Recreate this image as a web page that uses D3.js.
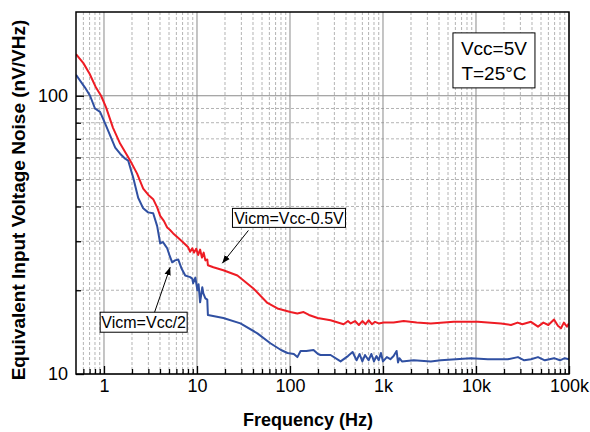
<!DOCTYPE html>
<html><head><meta charset="utf-8">
<script src="https://cdn.jsdelivr.net/npm/d3@7"></script>
<style>body{margin:0;background:#fff}svg{display:block;font-family:"Liberation Sans",Arial,sans-serif}</style>
</head><body><svg id="c" width="590" height="432"></svg>
<script>
// ---- data ----
const redFreq = [0.5,0.6,0.7,0.82,0.93,1.05,1.25,1.49,1.91,2.27,2.64,3.0,3.38,3.73,4.02,4.4,4.78,5.1,5.55,6.3,7.11,8.0,8.45,8.9,9.3,9.8,10.3,10.8,11.3,11.8,12.3,12.9,13.1,15,19.2,27.2,40.4,57.2,73.3,101,120,140,160,198,273,377,420,450,500,550,600,650,700,760,820,900,1016,1300,1670,2300,3266,5770,10470,18530,23770,28000,31500,39000,46400,53000,60000,69000,76000,82000,88000,95000,100000];
const redVal  = [141,131,120,107,100,91,76.7,67.3,58.5,52.5,46.4,44,42.5,39.7,37,35.5,33.6,33,32,30.8,29.7,28.6,27.5,28.3,27.3,28.2,26.8,28.0,26.2,27.3,25.6,25.8,24.6,24.2,23.6,22.6,20.3,18.0,17.2,16.7,16.5,16.7,16.3,15.9,15.6,15.1,15.5,15.2,15.5,15.0,15.5,15.1,15.6,15.1,15.4,15.2,15.3,15.3,15.5,15.3,15.2,15.4,15.4,15.2,15.0,15.3,15.1,15.4,14.8,15.3,15.0,15.7,14.9,14.6,15.3,14.8,15.2];
const blueFreq = [0.5,0.625,0.708,0.8,0.907,1.03,1.32,1.49,1.69,1.82,2.06,2.33,2.64,2.98,3.38,3.73,4.02,4.3,4.55,4.78,5.1,5.41,5.8,6.28,6.8,7.47,8.45,8.9,9.1,9.6,10.1,10.4,10.8,11.4,11.7,12.3,12.9,13.1,19.2,29.3,44.6,61.5,80,94,110,120,130,150,179,200,213,273,350,420,471,520,560,600,640,700,750,800,850,900,950,1000,1100,1200,1300,1400,1450,1500,1600,2140,3266,4180,8810,13430,22080,28250,33000,39000,46400,55000,69000,80000,90000,100000];
const blueVal  = [119,107,100,90,87.5,79.4,65.1,61.9,59.4,58.5,50.8,43,39.4,38.1,37.8,34,29.5,29.8,29.0,28.3,26.5,25.2,25.6,25.8,24,22.6,22.3,22.0,21.2,22.2,20.0,21.0,18.1,20.5,19.5,18.7,18.5,16.3,15.9,15.2,14.0,12.9,12.2,11.9,11.8,11.5,12.1,12.1,12.2,11.8,11.7,11.7,11.1,11.6,12.0,11.2,11.8,11.1,11.7,11.2,11.8,11.1,11.6,11.2,11.9,11.1,11.5,11.3,11.6,12.1,11.0,11.4,11.1,11.2,11.1,11.2,11.4,11.3,11.3,11.5,11.2,11.3,11.5,11.2,11.4,11.2,11.4,11.3];
const xMajor = [1,10,100,1000,10000,100000];
const xMajorLabels = ["1","10","100","1k","10k","100k"];
const yMajor = [10,100];
const yMajorLabels = ["10","100"];
const xDomain = [0.5,100000];
const yDomain = [10,200];
const seriesNames = ["Vicm=Vcc-0.5V","Vicm=Vcc/2"];
const condLines = ["Vcc=5V","T=25°C"];
// annotation anchors in data units [freq, value]
const redLabelAt = [97.5,36.4], redArrowFrom=[35.7,32.8], redArrowTo=[18.7,25.0];
const blueLabelAt = [2.67,15.35], blueArrowFrom=[3.46,16.5], blueArrowTo=[5.15,24.2];
const condAt = [15600,134];

// ---- layout ----
const L=76,T=12,W=493,H=362;
const svg=d3.select("#c");
const x=d3.scaleLog().domain(xDomain).range([L,L+W]);
const y=d3.scaleLog().domain(yDomain).range([T+H,T]);

const xMinor=[],yMinor=[];
for(let d=0.1; d<=10000; d*=10) for(let k=2;k<=9;k++){const v=+(k*d).toPrecision(3); if(v>xDomain[0]&&v<xDomain[1]) xMinor.push(v);}
for(let d=10; d<=100; d*=10) for(let k=2;k<=9;k++){const v=k*d; if(v>yDomain[0]&&v<yDomain[1]) yMinor.push(v);}

const g=svg.append("g");
// grid
g.selectAll(".vmin").data(xMinor).join("line").attr("x1",d=>x(d)).attr("x2",d=>x(d)).attr("y1",T).attr("y2",T+H)
 .attr("stroke","#b4b4b4").attr("stroke-width",1).attr("stroke-dasharray","3,2");
g.selectAll(".hmin").data(yMinor).join("line").attr("y1",d=>y(d)).attr("y2",d=>y(d)).attr("x1",L).attr("x2",L+W)
 .attr("stroke","#b4b4b4").attr("stroke-width",1).attr("stroke-dasharray","3,2");
g.selectAll(".vmaj").data(xMajor).join("line").attr("x1",d=>x(d)).attr("x2",d=>x(d)).attr("y1",T).attr("y2",T+H)
 .attr("stroke","#8a8a8a").attr("stroke-width",1);
g.selectAll(".hmaj").data(yMajor).join("line").attr("y1",d=>y(d)).attr("y2",d=>y(d)).attr("x1",L).attr("x2",L+W)
 .attr("stroke","#8a8a8a").attr("stroke-width",1);

// curves
svg.append("clipPath").attr("id","clip").append("rect").attr("x",L).attr("y",T).attr("width",W).attr("height",H);
const line=d3.line().x(d=>x(d[0])).y(d=>y(d[1]));
const red=redFreq.map((f,i)=>[f,redVal[i]]);
const blue=blueFreq.map((f,i)=>[f,blueVal[i]]);
const cg=svg.append("g").attr("clip-path","url(#clip)");
cg.append("path").datum(blue).attr("d",line).attr("fill","none").attr("stroke","#3050a2").attr("stroke-width",2).attr("stroke-linejoin","round");
cg.append("path").datum(red).attr("d",line).attr("fill","none").attr("stroke","#ee1c24").attr("stroke-width",2).attr("stroke-linejoin","round");

// axes
const fs=18;
const ax=svg.append("g").attr("transform",`translate(0,${T+H})`)
 .call(d3.axisBottom(x).tickValues(xMajor).tickSize(-8).tickPadding(5).tickFormat((d,i)=>xMajorLabels[i]));
const axm=svg.append("g").attr("transform",`translate(0,${T+H})`)
 .call(d3.axisBottom(x).tickValues(xMinor).tickSize(-5).tickFormat(""));
const ay=svg.append("g").attr("transform",`translate(${L},0)`)
 .call(d3.axisLeft(y).tickValues(yMajor).tickSize(-8).tickPadding(8).tickFormat((d,i)=>yMajorLabels[i]));
const aym=svg.append("g").attr("transform",`translate(${L},0)`)
 .call(d3.axisLeft(y).tickValues(yMinor).tickSize(-5).tickFormat(""));
[ax,axm,ay,aym].forEach(a=>{a.select(".domain").remove();a.selectAll("line").attr("stroke","#000").attr("stroke-width",1.3);
 a.selectAll("text").attr("font-size",fs).attr("font-family","Liberation Sans, Arial, sans-serif").attr("fill","#000");});

// frame
svg.append("rect").attr("x",L).attr("y",T).attr("width",W).attr("height",H).attr("fill","none").attr("stroke","#000").attr("stroke-width",1.5);

// titles
svg.append("text").attr("x",308).attr("y",426).attr("text-anchor","middle").attr("font-size",18).attr("font-weight","bold").text("Frequency (Hz)");
svg.append("text").attr("transform","translate(25,200) rotate(-90)").attr("text-anchor","middle").attr("font-size",19).attr("font-weight","bold")
 .text("Equivalent Input Voltage Noise (nV/VHz)");

// arrows
const defs=svg.append("defs");
defs.append("marker").attr("id","ah").attr("viewBox","0 0 10 10").attr("refX",10).attr("refY",5)
 .attr("markerWidth",8).attr("markerHeight",8).attr("markerUnits","userSpaceOnUse").attr("orient","auto")
 .append("path").attr("d","M0,1 L10,5 L0,9 Z").attr("fill","#000");
[[redArrowFrom,redArrowTo],[blueArrowFrom,blueArrowTo]].forEach(([a,b])=>{
 svg.append("line").attr("x1",x(a[0])).attr("y1",y(a[1])).attr("x2",x(b[0])).attr("y2",y(b[1]))
  .attr("stroke","#000").attr("stroke-width",1).attr("marker-end","url(#ah)");
});

// label boxes
function box(at,lines,fsz,w,h,lh){
 const cx=x(at[0]),cy=y(at[1]);
 const gg=svg.append("g");
 gg.append("rect").attr("x",cx-w/2).attr("y",cy-h/2).attr("width",w).attr("height",h).attr("fill","#fff").attr("stroke","#000").attr("stroke-width",1);
 lines.forEach((t,i)=>{
  gg.append("text").attr("x",cx).attr("y",cy-(lines.length-1)*lh/2+i*lh).attr("dy","0.36em").attr("text-anchor","middle").attr("font-size",fsz).text(t);
 });
}
box(redLabelAt,[seriesNames[0]],16,113,19,0);
box(blueLabelAt,[seriesNames[1]],16,87,20,0);
box(condAt,condLines,19,82,55,25);
</script></body></html>
